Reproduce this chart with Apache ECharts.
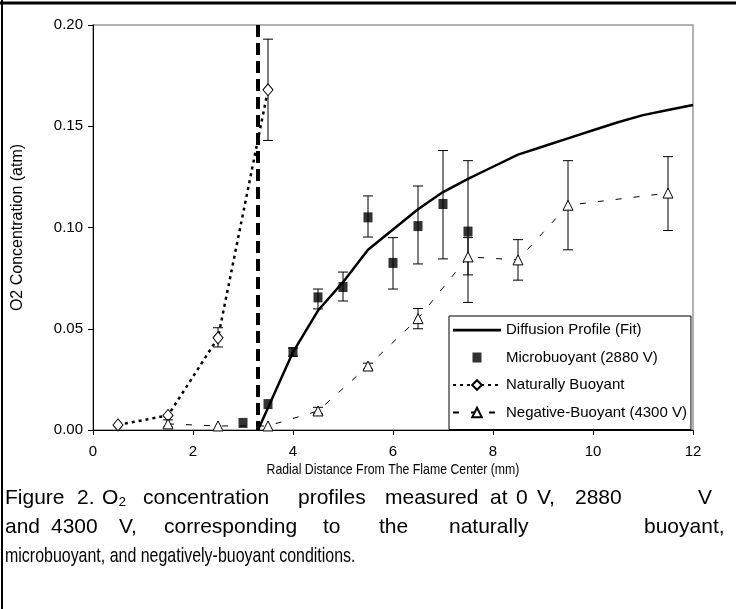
<!DOCTYPE html>
<html>
<head>
<meta charset="utf-8">
<script src="https://cdn.jsdelivr.net/npm/echarts@6/dist/echarts.min.js"></script>
<style>
  html, body { margin: 0; padding: 0; background: #fff; }
  #main { width: 736px; height: 609px; }
</style>
</head>
<body>
<div id="main"></div>
<script>
// Diffusion profile fit
var fitX = [3.3, 3.5, 4, 4.5, 5, 5.5, 6, 6.5, 7, 7.5, 8, 8.5, 9, 9.5, 10, 10.5, 11, 11.5, 12];
var fitY = [0, 0.011, 0.0385, 0.059, 0.073, 0.089, 0.099, 0.109, 0.1175, 0.124, 0.130, 0.136, 0.140, 0.144, 0.148, 0.152, 0.1555, 0.158, 0.1605];

// Microbuoyant (2880 V)
var microX  = [3.0, 3.5, 4.0, 4.5, 5.0, 5.5, 6.0, 6.5, 7.0, 7.5];
var microY  = [0.0035, 0.0128, 0.0385, 0.0655, 0.0706, 0.105, 0.0825, 0.1007, 0.1116, 0.098];
var microLo = [null, null, 0.0365, 0.0598, 0.0637, 0.0953, 0.0696, 0.082, 0.0845, 0.063];
var microHi = [null, null, 0.0405, 0.0696, 0.078, 0.1156, 0.095, 0.1205, 0.138, 0.133];

// Naturally Buoyant (0 V)
var natX  = [0.5, 1.5, 2.5, 3.5];
var natY  = [0.0025, 0.0072, 0.0455, 0.168];
var natLo = [null, null, 0.041, 0.143];
var natHi = [null, null, 0.0505, 0.193];

// Negative-Buoyant (4300 V)
var negX  = [1.5, 2.5, 3.5, 4.5, 5.5, 6.5, 7.5, 8.5, 9.5, 11.5];
var negY  = [0.003, 0.002, 0.002, 0.0094, 0.0316, 0.055, 0.0855, 0.084, 0.111, 0.117];
var negLo = [0.0015, null, null, 0.008, 0.0301, 0.050, 0.0766, 0.074, 0.089, 0.0985];
var negHi = [0.0050, null, null, 0.0112, 0.033, 0.060, 0.095, 0.094, 0.133, 0.135];

// flame edge marker
var flameX = 3.3;

var xTicks = [0, 2, 4, 6, 8, 10, 12];
var yTicks = ['0.00', '0.05', '0.10', '0.15', '0.20'];

function pairs(xs, ys) {
  return xs.map(function (x, i) { return [x, ys[i]]; });
}
function bars(xs, lo, hi) {
  var out = [];
  xs.forEach(function (x, i) {
    if (lo[i] != null) out.push([x, lo[i], hi[i]]);
  });
  return out;
}
function errorBars(name, data) {
  return {
    name: name + ' err',
    type: 'custom',
    data: data,
    z: 1,
    silent: true,
    renderItem: function (params, api) {
      var top = api.coord([api.value(0), api.value(2)]);
      var bot = api.coord([api.value(0), api.value(1)]);
      var cap = 5;
      var st = { stroke: '#000', lineWidth: 1 };
      return {
        type: 'group',
        children: [
          { type: 'line', shape: { x1: top[0], y1: top[1], x2: bot[0], y2: bot[1] }, style: st },
          { type: 'line', shape: { x1: top[0] - cap, y1: top[1], x2: top[0] + cap, y2: top[1] }, style: st },
          { type: 'line', shape: { x1: bot[0] - cap, y1: bot[1], x2: bot[0] + cap, y2: bot[1] }, style: st }
        ]
      };
    }
  };
}

var chart = echarts.init(document.getElementById('main'));
var font = 'Liberation Sans, Arial, sans-serif';

// caption words (justified lines) with their left offsets
var capLine1 = [['Figure', 5], ['2.', 77], ['O\u2082', 102], ['concentration', 143], ['profiles', 298],
  ['measured', 385], ['at', 490], ['0', 516], ['V,', 537], ['2880', 575], ['V', 698]];
var capLine2 = [['and', 5], ['4300', 51], ['V,', 119], ['corresponding', 164], ['to', 323],
  ['the', 379], ['naturally', 449], ['buoyant,', 644]];
var capLine3 = 'microbuoyant, and negatively-buoyant conditions.';
var xName = 'Radial Distance From The Flame Center (mm)';

var graphics = [
  { type: 'line', shape: { x1: 2, y1: 0, x2: 2, y2: 609 }, style: { stroke: '#000', lineWidth: 2 } },
  { type: 'line', shape: { x1: 0, y1: 3, x2: 736, y2: 3 }, style: { stroke: '#000', lineWidth: 3 } },
  { type: 'text', x: 393, y: 470, scaleX: 0.82,
    style: { text: xName, font: '15px ' + font, fill: '#000', align: 'center', verticalAlign: 'middle' } }
];
capLine1.forEach(function (w) {
  graphics.push({ type: 'text', left: w[1], top: 488, style: { text: w[0], font: '21px ' + font, fill: '#000' } });
});
capLine2.forEach(function (w) {
  graphics.push({ type: 'text', left: w[1], top: 517, style: { text: w[0], font: '21px ' + font, fill: '#000' } });
});
graphics.push({ type: 'text', x: 5, y: 556, scaleX: 0.76,
  style: { text: capLine3, font: '21px ' + font, fill: '#000', align: 'left', verticalAlign: 'middle' } });

var option = {
  animation: false,
  backgroundColor: '#fff',
  textStyle: { fontFamily: font },
  grid: {
    left: 93, right: 43, top: 25, bottom: 179,
    show: true, borderColor: '#999', borderWidth: 1.5, backgroundColor: '#fff'
  },
  legend: {
    orient: 'vertical',
    left: 449, top: 316,
    padding: [6, 4, 9, 3],
    itemWidth: 48, itemHeight: 12, itemGap: 11.5,
    backgroundColor: '#fff',
    borderColor: '#000', borderWidth: 1,
    borderRadius: 0,
    textStyle: { fontSize: 15, color: '#000', lineHeight: 16, fontFamily: font },
    data: [
      { name: 'Diffusion Profile (Fit)', icon: 'path://M0,0M48,12M0,4.8h48v2.6h-48z' },
      { name: 'Microbuoyant (2880 V)', icon: 'path://M0,0M48,12M19.5,1h9v10h-9z' },
      'Naturally Buoyant',
      'Negative-Buoyant (4300 V)'
    ]
  },
  xAxis: {
    type: 'value', min: 0, max: 12, interval: 2,
    axisLine: { lineStyle: { color: '#000', width: 1 } },
    axisTick: { inside: false, length: 5, lineStyle: { color: '#000' } },
    axisLabel: { color: '#000', fontSize: 15, margin: 14,
      formatter: function (v) { return xTicks.indexOf(v) >= 0 ? String(v) : ''; } },
    splitLine: { show: false }
  },
  yAxis: {
    type: 'value', min: 0, max: 0.2, interval: 0.05,
    name: 'O2 Concentration (atm)',
    nameLocation: 'middle', nameGap: 67,
    nameTextStyle: { fontSize: 16, color: '#000' },
    axisLine: { show: true, lineStyle: { color: '#000', width: 1 } },
    axisTick: { show: true, inside: false, length: 5, lineStyle: { color: '#000' } },
    axisLabel: { color: '#000', fontSize: 15, margin: 10,
      formatter: function (v) { return yTicks[Math.round(v / 0.05)]; } },
    splitLine: { show: false }
  },
  graphic: graphics,
  series: [
    errorBars('micro', bars(microX, microLo, microHi)),
    errorBars('nat', bars(natX, natLo, natHi)),
    errorBars('neg', bars(negX, negLo, negHi)),
    {
      name: 'flame edge',
      type: 'line',
      data: [[flameX, 0.2], [flameX, 0]],
      symbol: 'none',
      silent: true,
      z: 2,
      lineStyle: { color: '#000', width: 4, type: [12, 6] }
    },
    {
      name: 'Diffusion Profile (Fit)',
      type: 'line',
      data: pairs(fitX, fitY),
      symbol: 'none',
      z: 3,
      lineStyle: { color: '#000', width: 2.5 },
      itemStyle: { color: '#000' }
    },
    {
      name: 'Microbuoyant (2880 V)',
      type: 'scatter',
      data: pairs(microX, microY),
      symbol: 'rect',
      symbolSize: [9, 10],
      z: 4,
      itemStyle: { color: '#000' }
    },
    {
      name: 'Naturally Buoyant',
      type: 'line',
      data: pairs(natX, natY),
      symbol: 'diamond',
      symbolSize: [10, 12],
      showAllSymbol: true,
      z: 4,
      lineStyle: { color: '#000', width: 2.5, type: [3, 4] },
      itemStyle: { color: '#fff', borderColor: '#000', borderWidth: 1 }
    },
    {
      name: 'Negative-Buoyant (4300 V)',
      type: 'line',
      data: pairs(negX, negY),
      symbol: 'triangle',
      symbolSize: [10, 10],
      showAllSymbol: true,
      z: 4,
      lineStyle: { color: '#000', width: 1, type: [6, 12] },
      itemStyle: { color: '#fff', borderColor: '#000', borderWidth: 1 }
    }
  ]
};
chart.setOption(option);
</script>
</body>
</html>
